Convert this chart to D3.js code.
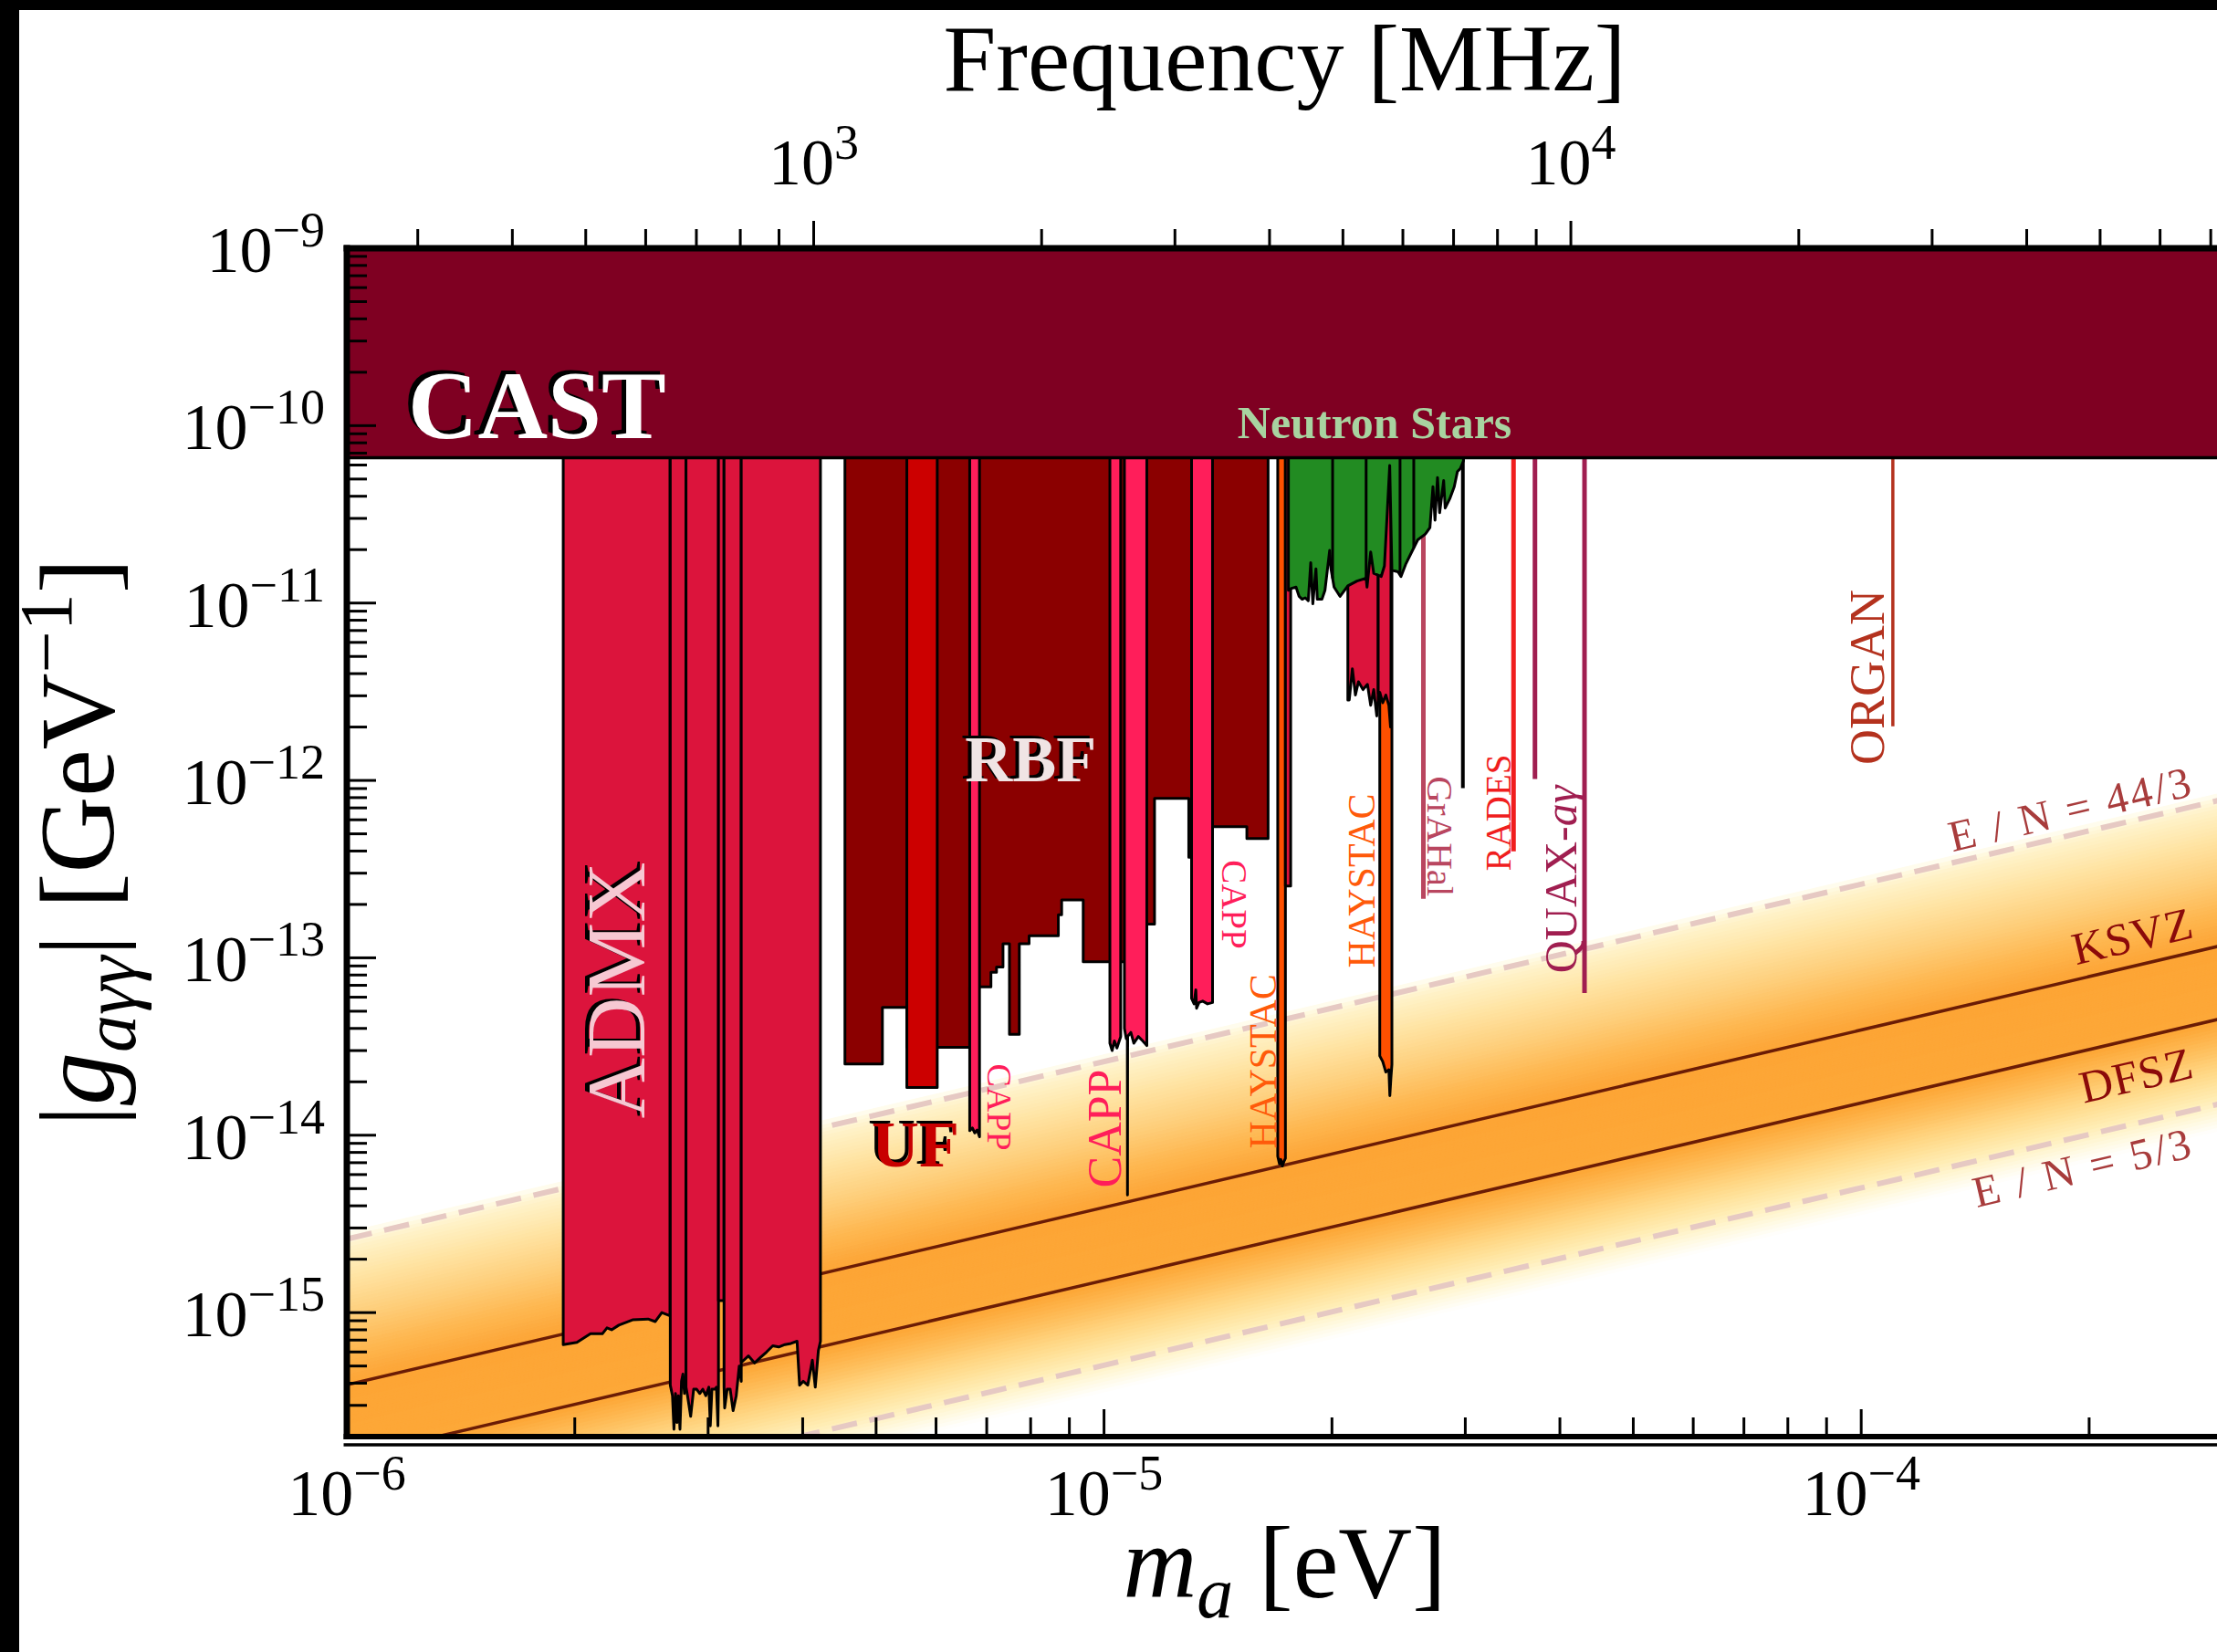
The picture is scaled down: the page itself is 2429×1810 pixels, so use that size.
<!DOCTYPE html>
<html><head><meta charset="utf-8">
<script src="https://cdn.jsdelivr.net/npm/d3@7"></script>
<style>
html,body{margin:0;padding:0;background:#fff;}
svg{display:block;font-family:"Liberation Serif","DejaVu Serif",serif;}
</style></head><body>
<svg id="chart" width="2429" height="1810"></svg>
<script>
// ---------------- DATA ----------------
// masses in μeV, couplings in GeV^-1
const massDomain = [1e-6, 3e-4];       // eV
const couplingDomain = [2e-16, 1e-9];  // GeV^-1
const mhzPerEV = 2.418e8;

const xLabelExps = [-6, -5, -4];
const yLabelExps = [-9, -10, -11, -12, -13, -14, -15];
const fLabelExps = [3, 4];

const castLimit = 6.6e-11;

const ksvzLine  = [[1, 3.92e-16], [300, 1.176e-13]];
const dfszLine  = [[1, 1.52e-16], [300, 4.56e-14]];
const en443Line = [[1, 2.6e-15],  [300, 7.8e-13]];
const en53Line  = [[1, 5.05e-17], [300, 1.515e-14]];

const admxSegments = [
  [[1.931,6.6e-16],[2.013,6.8e-16],[2.098,7.6e-16],[2.175,7.6e-16],[2.206,8.2e-16],[2.237,8.0e-16],[2.287,8.5e-16],[2.384,9.1e-16],[2.499,9.2e-16],[2.555,8.9e-16],[2.606,1.0e-15],[2.672,9.6e-16]],
  [[2.674,3.9e-16],[2.692,3.4e-16],[2.704,2.2e-16],[2.717,3.5e-16],[2.729,2.4e-16],[2.741,3.4e-16],[2.754,2.2e-16],[2.767,4.1e-16],[2.779,4.5e-16],[2.792,3.5e-16],[2.805,3.8e-16]],
  [[2.805,3.8e-16],[2.818,3.4e-16],[2.845,2.6e-16],[2.871,3.7e-16],[2.897,3.7e-16],[2.925,3.5e-16],[2.952,3.7e-16],[2.979,3.4e-16],[3.007,3.8e-16],[3.020,2.3e-16],[3.035,3.7e-16],[3.062,3.7e-16],[3.077,3.8e-16],[3.091,2.3e-16],[3.096,3.8e-16]],
  [[3.096,1.17e-15],[3.149,1.17e-15]],
  [[3.149,3.8e-16],[3.155,2.9e-16],[3.179,3.7e-16],[3.208,3.7e-16],[3.237,2.8e-16],[3.268,3.4e-16],[3.298,5.0e-16],[3.318,4.1e-16]],
  [[3.318,5.3e-16],[3.329,5.3e-16],[3.391,5.7e-16],[3.455,5.2e-16],[3.519,5.6e-16],[3.584,6.0e-16],[3.652,6.5e-16],[3.719,6.4e-16],[3.789,6.6e-16],[3.860,6.7e-16],[3.932,6.9e-16],[3.962,3.9e-16],[4.006,4.1e-16],[4.062,3.9e-16],[4.119,5.4e-16],[4.156,3.8e-16],[4.195,6.1e-16],[4.222,6.9e-16]]
];

const rbfSteps = [
  [4.548,5.097,2.52e-14],[5.097,5.490,5.25e-14],[5.490,6.022,3.13e-14],[6.022,6.647,3.13e-14],
  [6.647,6.848,6.85e-14],[6.848,7.090,6.85e-14],[7.090,7.211,8.28e-14],[7.211,7.355,8.87e-14],
  [7.355,7.501,1.20e-13],[7.501,7.729,3.71e-14],[7.729,7.962,1.20e-13],[7.962,8.703,1.33e-13],
  [8.703,8.791,1.75e-13],[8.791,9.387,2.12e-13],[9.387,11.39,9.49e-14],[11.39,11.66,1.55e-13],
  [11.66,12.94,7.91e-13],[12.94,13.91,3.69e-13],[13.91,15.44,5.48e-13],[15.44,16.47,4.70e-13]
];

const ufSteps = [[5.490, 6.022, 1.86e-14]];

const cappSegments = [
  [[6.647,1.06e-14],[6.70,1.10e-14],[6.75,1.03e-14],[6.80,1.07e-14],[6.848,0.98e-14]],
  [[10.18,3.3e-14],[10.25,3.0e-14],[10.32,3.4e-14],[10.40,3.1e-14],[10.52,3.6e-14]],
  [[10.64,4.0e-14],[10.70,3.5e-14],[10.735,3.6e-14],[10.74,4.6e-15],[10.745,3.6e-14],[10.85,3.8e-14],[10.95,3.3e-14],[11.1,3.6e-14],[11.25,3.4e-14],[11.39,3.2e-14]],
  [[13.05,5.9e-14],[13.15,5.5e-14],[13.22,6.6e-14],[13.25,5.2e-14],[13.35,5.6e-14],[13.5,5.7e-14],[13.7,5.5e-14],[13.91,5.6e-14]]
];

const haystacSegments = [
  [[16.96,7.6e-15],[17.05,6.9e-15],[17.12,7.3e-15],[17.2,6.7e-15],[17.28,7.1e-15],[17.36,7.4e-15]],
  [[23.13,2.8e-14],[23.34,2.6e-14],[23.56,2.27e-14],[23.78,2.34e-14],[23.85,1.67e-14],[23.93,2.12e-14],[24.00,2.5e-14]]
];

const admxHighSegments = [
  [[17.36,2.54e-13],[17.64,2.54e-13]],
  [[20.99,2.84e-12],[21.08,2.84e-12],[21.28,4.26e-12],[21.48,3.03e-12],[21.68,3.60e-12],[21.98,3.25e-12],[22.28,3.48e-12],[22.50,2.65e-12],[22.71,3.25e-12],[22.92,2.31e-12],[23.02,2.84e-12]],
  [[23.02,3.1e-12],[23.13,3.14e-12],[23.34,2.74e-12],[23.56,3.03e-12],[23.78,2.65e-12],[23.90,2.0e-12],[23.93,2.84e-12]]
];

const nsCurve = [
  [17.52,1.18e-11],[17.69,1.21e-11],[17.93,1.23e-11],[18.10,1.09e-11],[18.27,1.05e-11],[18.44,1.07e-11],
  [18.61,1.03e-11],[18.75,1.69e-11],[18.87,9.9e-12],[19.05,1.56e-11],[19.13,1.05e-11],[19.40,1.05e-11],
  [19.58,1.18e-11],[19.86,1.98e-11],[19.94,1.56e-11],[20.13,1.23e-11],[20.50,1.09e-11],[20.99,1.25e-11],
  [21.58,1.33e-11],[22.19,1.38e-11],[22.25,1.23e-11],[22.50,1.94e-11],[22.71,1.47e-11],[23.23,1.41e-11],
  [23.46,1.62e-11],[23.84,5.97e-11],[24.00,1.53e-11],[24.45,1.50e-11],[24.67,1.41e-11],[25.02,1.65e-11],
  [25.49,1.94e-11],[25.96,2.27e-11],[26.57,2.45e-11],[26.94,2.66e-11],[27.19,4.53e-11],[27.36,2.93e-11],
  [27.57,5.1e-11],[27.75,3.23e-11],[28.09,4.9e-11],[28.22,3.43e-11],[28.61,3.86e-11],[29.01,4.53e-11],
  [29.29,5.51e-11],[29.56,5.74e-11],[29.83,6.33e-11]
];
const nsDividers = [20.04, 22.19, 24.60, 25.65];

// narrow exclusions: [name, mass μeV, coupling]
const narrowLimits = [
  ["GrAHal", 26.41, 2.15e-13],
  ["other",  29.78, 9.04e-13],
  ["RADES",  34.74, 3.98e-13],
  ["QUAX-1", 37.08, 1.02e-12],
  ["QUAX-2", 43.11, 6.34e-14],
  ["ORGAN", 110.1,  2.02e-12]
];

// ---------------- STYLE / LAYOUT ----------------
const W = 2429, H = 1810;
const plot = {left: 380, right: 2435, top: 272, bottom: 1574};
const narrowStyle = [
  {color:"#B9465F", w:5}, {color:"#000000", w:4}, {color:"#F01E1E", w:5},
  {color:"#A01E50", w:5}, {color:"#A01E50", w:5}, {color:"#B4321E", w:3.5}
];
const bandStops  = [-1.04, -0.95, -0.85, -0.7, -0.55, -0.43, 0, 0.06, 0.2, 0.4, 0.6, 0.78, 0.84, 0.87];
const bandColors = ["#FFFFFF","#FFF8DC","#FFEDB4","#FFD886","#FEBC58","#FDA838","#FDA535","#FDA93C","#FEB852","#FECF7C","#FFE3A2","#FFF2C8","#FFFAE4","#FFFFFF"];

const x = d3.scaleLog().domain(massDomain).range([plot.left, plot.right]);
const y = d3.scaleLog().domain(couplingDomain).range([plot.bottom, plot.top]);
const xf = d3.scaleLog().domain(massDomain.map(m => m * mhzPerEV)).range([plot.left, plot.right]);

const svg = d3.select("#chart");
svg.append("rect").attr("width", W).attr("height", H).attr("fill", "#fff");
svg.append("defs").append("clipPath").attr("id", "plotClip").append("rect")
  .attr("x", plot.left).attr("y", plot.top)
  .attr("width", plot.right - plot.left).attr("height", plot.bottom - plot.top);

const plotG = svg.append("g").attr("clip-path", "url(#plotClip)");
const px = d => x(d[0] * 1e-6), py = d => y(d[1]);
const line = d3.line().x(px).y(py);
const TOP = 1e-9;

function limitPath(points) {
  const pts = [[points[0][0], TOP], ...points, [points[points.length - 1][0], TOP]];
  return line(pts) + "Z";
}
function stepsToPoints(steps) {
  const out = [];
  steps.forEach(s => { out.push([s[0], s[2]]); out.push([s[1], s[2]]); });
  return out;
}
function interpLog(curve, m) {
  for (let i = 0; i < curve.length - 1; i++) {
    if (m >= curve[i][0] && m <= curve[i + 1][0]) {
      const t = (Math.log10(m) - Math.log10(curve[i][0])) / (Math.log10(curve[i + 1][0]) - Math.log10(curve[i][0]));
      return 10 ** (Math.log10(curve[i][1]) + t * (Math.log10(curve[i + 1][1]) - Math.log10(curve[i][1])));
    }
  }
  return curve[curve.length - 1][1];
}

// ---- theory band ----
const bandColor = d3.scaleLinear().domain(bandStops).range(bandColors).interpolate(d3.interpolateRgb);
const bandLevels = d3.range(-1.04, 0.8701, 0.02);
for (let i = 0; i < bandLevels.length - 1; i++) {
  const f1 = 10 ** bandLevels[i], f2 = 10 ** bandLevels[i + 1];
  const pts = [[ksvzLine[0][0], ksvzLine[0][1] * f1], [ksvzLine[1][0], ksvzLine[1][1] * f1],
               [ksvzLine[1][0], ksvzLine[1][1] * f2], [ksvzLine[0][0], ksvzLine[0][1] * f2]];
  const c = bandColor((bandLevels[i] + bandLevels[i + 1]) / 2);
  plotG.append("path").attr("d", line(pts) + "Z").attr("fill", c).attr("stroke", c).attr("stroke-width", 1.2);
}
[en443Line, en53Line].forEach(L => plotG.append("path").attr("d", line(L)).attr("fill", "none")
  .attr("stroke", "#E6C9C3").attr("stroke-width", 6).attr("stroke-dasharray", "28,14"));
[ksvzLine, dfszLine].forEach(L => plotG.append("path").attr("d", line(L)).attr("fill", "none")
  .attr("stroke", "#6B1C05").attr("stroke-width", 3.5));

// ---- narrow line limits ----
narrowLimits.forEach((d, i) => {
  plotG.append("line").attr("x1", x(d[1] * 1e-6)).attr("x2", x(d[1] * 1e-6))
    .attr("y1", y(TOP)).attr("y2", y(d[2]))
    .attr("stroke", narrowStyle[i].color).attr("stroke-width", narrowStyle[i].w);
});

function drawRegion(points, fill) {
  plotG.append("path").attr("d", limitPath(points)).attr("fill", fill)
    .attr("stroke", "#000").attr("stroke-width", 3).attr("stroke-linejoin", "round");
}
drawRegion(stepsToPoints(rbfSteps), "#8B0000");
ufSteps.forEach(s => drawRegion(stepsToPoints([s]), "#CC0000"));
cappSegments.forEach(s => drawRegion(s, "#FF1E5A"));
admxSegments.forEach(s => drawRegion(s, "#DC143C"));
haystacSegments.forEach(s => drawRegion(s, "#FF5000"));
admxHighSegments.forEach(s => drawRegion(s, "#DC143C"));
drawRegion(nsCurve, "#228B22");
nsDividers.forEach(m => {
  plotG.append("line").attr("x1", x(m * 1e-6)).attr("x2", x(m * 1e-6))
    .attr("y1", y(TOP)).attr("y2", y(interpLog(nsCurve, m)))
    .attr("stroke", "#000").attr("stroke-width", 3);
});

// ---- CAST ----
plotG.append("rect").attr("x", plot.left).attr("y", y(TOP))
  .attr("width", plot.right - plot.left).attr("height", y(castLimit) - y(TOP)).attr("fill", "#7F0022");
plotG.append("line").attr("x1", plot.left).attr("x2", plot.right)
  .attr("y1", y(castLimit)).attr("y2", y(castLimit)).attr("stroke", "#000").attr("stroke-width", 3.5);

// ---- labels ----
const annotations = [
  {text:"CAST", m:1.204, g:8.51e-11, anchor:"start", size:106, weight:"bold", color:"#FFFFFF", shadow:[-5,-4]},
  {text:"Neutron Stars", m:22.77, g:8.51e-11, size:50, weight:"bold", color:"#A8D3A0"},
  {text:"RBF", m:8.0, g:9.9e-13, size:72, weight:"bold", color:"#F0E4E4", shadow:[-4,-3]},
  {text:"UF", m:5.636, g:6.68e-15, size:72, weight:"bold", color:"#C80000", shadow:[-4,-3]},
  {text:"ADMX", m:2.268, g:6.57e-14, rotate:-90, center:true, size:92, color:"#F6C8D2", shadow:[-5,-2]},
  {text:"CAPP", m:7.265, g:1.44e-14, rotate:90, center:true, size:38, color:"#FF1E5A"},
  {text:"CAPP", m:10.03, g:1.09e-14, rotate:-90, center:true, size:52, color:"#FF1E5A"},
  {text:"CAPP", m:14.87, g:2.0e-13, rotate:90, center:true, size:39, color:"#FF1E5A"},
  {text:"HAYSTAC", m:16.23, g:2.61e-14, rotate:-90, center:true, size:42, color:"#FF5A0A"},
  {text:"HAYSTAC", m:21.9, g:2.72e-13, rotate:-90, center:true, size:42, color:"#FF5A0A"},
  {text:"GrAHal", m:27.8, g:4.84e-13, rotate:90, center:true, size:41, color:"#B9465F"},
  {text:"RADES", m:33.16, g:6.58e-13, rotate:-90, center:true, size:39, color:"#F01E1E"},
  {parts:[{t:"QUAX-"},{t:"aγ", italic:true}], m:40.11, g:2.77e-13, rotate:-90, center:true, size:50, color:"#A01E50"},
  {text:"ORGAN", m:101.9, g:3.82e-12, rotate:-90, center:true, size:54, color:"#B4321E"}
];
const lineAngle = Math.atan2(py(ksvzLine[1]) - py(ksvzLine[0]), px(ksvzLine[1]) - px(ksvzLine[0])) * 180 / Math.PI;
const theoryLabels = [
  {text:"E / N = 44/3", m:276.7, g:8.29e-13, size:48, spacing:3, color:"#A83C3C"},
  {text:"KSVZ", m:276.7, g:1.31e-13, size:50, spacing:1, color:"#8B0A0A"},
  {text:"DFSZ", m:276.7, g:2.13e-14, size:50, spacing:1, color:"#8B0A0A"},
  {text:"E / N = 5/3", m:276.7, g:7.62e-15, size:48, spacing:3, color:"#A83C3C"}
];
theoryLabels.forEach(l => { l.rotate = lineAngle; l.anchor = "end"; });

const labelG = svg.append("g");
function drawLabel(cfg) {
  const gx = x(cfg.m * 1e-6), gy = y(cfg.g);
  const layers = cfg.shadow ? [{dx:cfg.shadow[0], dy:cfg.shadow[1], fill:"#000"}, {dx:0, dy:0, fill:cfg.color}]
                            : [{dx:0, dy:0, fill:cfg.color}];
  layers.forEach(L => {
    const t = labelG.append("text")
      .attr("transform", `translate(${gx + L.dx},${gy + L.dy}) rotate(${cfg.rotate || 0})`)
      .attr("text-anchor", cfg.anchor || "middle")
      .attr("font-size", cfg.size).attr("font-weight", cfg.weight || "normal")
      .attr("letter-spacing", cfg.spacing || null)
      .attr("fill", L.fill);
    if (cfg.center) t.attr("dy", "0.34em");
    if (cfg.parts) cfg.parts.forEach(p => t.append("tspan").attr("font-style", p.italic ? "italic" : null).text(p.t));
    else t.text(cfg.text);
  });
}
annotations.forEach(drawLabel);
theoryLabels.forEach(drawLabel);

// ---------------- AXES ----------------
const axG = svg.append("g");
const pow10 = e => 10 ** e;
function minorTicks(lo, hi, kFrom, kTo) {
  const out = [];
  for (let k = kFrom; k <= kTo; k++) for (let j = 2; j <= 9; j++) {
    const v = j * 10 ** k;
    if (v > lo * 1.0001 && v < hi * 0.9999) out.push(v);
  }
  return out;
}
function tickLines(vals, scale, orient, len) {
  vals.forEach(v => {
    const p = scale(v);
    const l = axG.append("line").attr("stroke", "#000").attr("stroke-width", 3);
    if (orient === "left") l.attr("x1", plot.left).attr("x2", plot.left + len).attr("y1", p).attr("y2", p);
    if (orient === "bottom") l.attr("x1", p).attr("x2", p).attr("y1", plot.bottom).attr("y2", plot.bottom - len);
    if (orient === "top") l.attr("x1", p).attr("x2", p).attr("y1", plot.top).attr("y2", plot.top - len);
  });
}
const yMajor = yLabelExps.map(pow10);
const xMajor = xLabelExps.map(pow10);
const fMajor = fLabelExps.map(pow10);
tickLines(minorTicks(couplingDomain[0], couplingDomain[1], -16, -10), y, "left", 22);
tickLines(yMajor, y, "left", 32);
tickLines(minorTicks(massDomain[0], massDomain[1], -6, -4), x, "bottom", 21);
tickLines(xMajor, x, "bottom", 30);
const fDom = massDomain.map(m => m * mhzPerEV);
tickLines(minorTicks(fDom[0], fDom[1], 2, 4), xf, "top", 21);
tickLines(fMajor, xf, "top", 30);

// spines
axG.append("line").attr("x1", plot.left).attr("x2", plot.left).attr("y1", plot.top - 3.5).attr("y2", plot.bottom + 3)
  .attr("stroke", "#000").attr("stroke-width", 7);
axG.append("line").attr("x1", plot.left - 3.5).attr("x2", plot.right).attr("y1", plot.top).attr("y2", plot.top)
  .attr("stroke", "#000").attr("stroke-width", 7);
axG.append("line").attr("x1", plot.left - 3.5).attr("x2", plot.right).attr("y1", plot.bottom).attr("y2", plot.bottom)
  .attr("stroke", "#000").attr("stroke-width", 6);
axG.append("line").attr("x1", plot.left - 3.5).attr("x2", plot.right).attr("y1", plot.bottom + 9).attr("y2", plot.bottom + 9)
  .attr("stroke", "#000").attr("stroke-width", 3.5);

function powLabel(xp, yp, exp, anchor) {
  const t = axG.append("text").attr("x", xp).attr("y", yp).attr("text-anchor", anchor).attr("font-size", 72);
  t.append("tspan").text("10");
  t.append("tspan").attr("font-size", 54).attr("dy", -28).text((exp < 0 ? "−" : "") + Math.abs(exp));
}
yLabelExps.forEach(e => powLabel(356, y(pow10(e)) + 26, e, "end"));
xLabelExps.forEach(e => powLabel(x(pow10(e)), 1660, e, "middle"));
fLabelExps.forEach(e => powLabel(xf(pow10(e)), 202, e, "middle"));

// axis titles
const cx = (plot.left + plot.right) / 2;
axG.append("text").attr("x", cx).attr("y", 99).attr("text-anchor", "middle").attr("font-size", 104).text("Frequency [MHz]");
const xt = axG.append("text").attr("x", cx).attr("y", 1750).attr("text-anchor", "middle").attr("font-size", 112);
xt.append("tspan").attr("font-style", "italic").text("m");
xt.append("tspan").attr("font-style", "italic").attr("font-size", 80).attr("dy", 22).text("a");
xt.append("tspan").attr("dy", -22).text(" [eV]");
const yt = axG.append("text").attr("transform", `translate(124,${(plot.top + plot.bottom) / 2}) rotate(-90)`)
  .attr("text-anchor", "middle").attr("font-size", 116);
yt.append("tspan").text("|");
yt.append("tspan").attr("font-style", "italic").text("g");
yt.append("tspan").attr("font-style", "italic").attr("font-size", 82).attr("dy", 24).text("aγγ");
yt.append("tspan").attr("dy", -24).text("| [GeV");
yt.append("tspan").attr("font-size", 82).attr("dy", -46).text("−1");
yt.append("tspan").attr("dy", 46).text("]");

// frame bands
svg.append("rect").attr("x", 0).attr("y", 0).attr("width", 21).attr("height", H).attr("fill", "#000");
svg.append("rect").attr("x", 0).attr("y", 0).attr("width", W).attr("height", 11).attr("fill", "#000");
</script>
</body></html>
